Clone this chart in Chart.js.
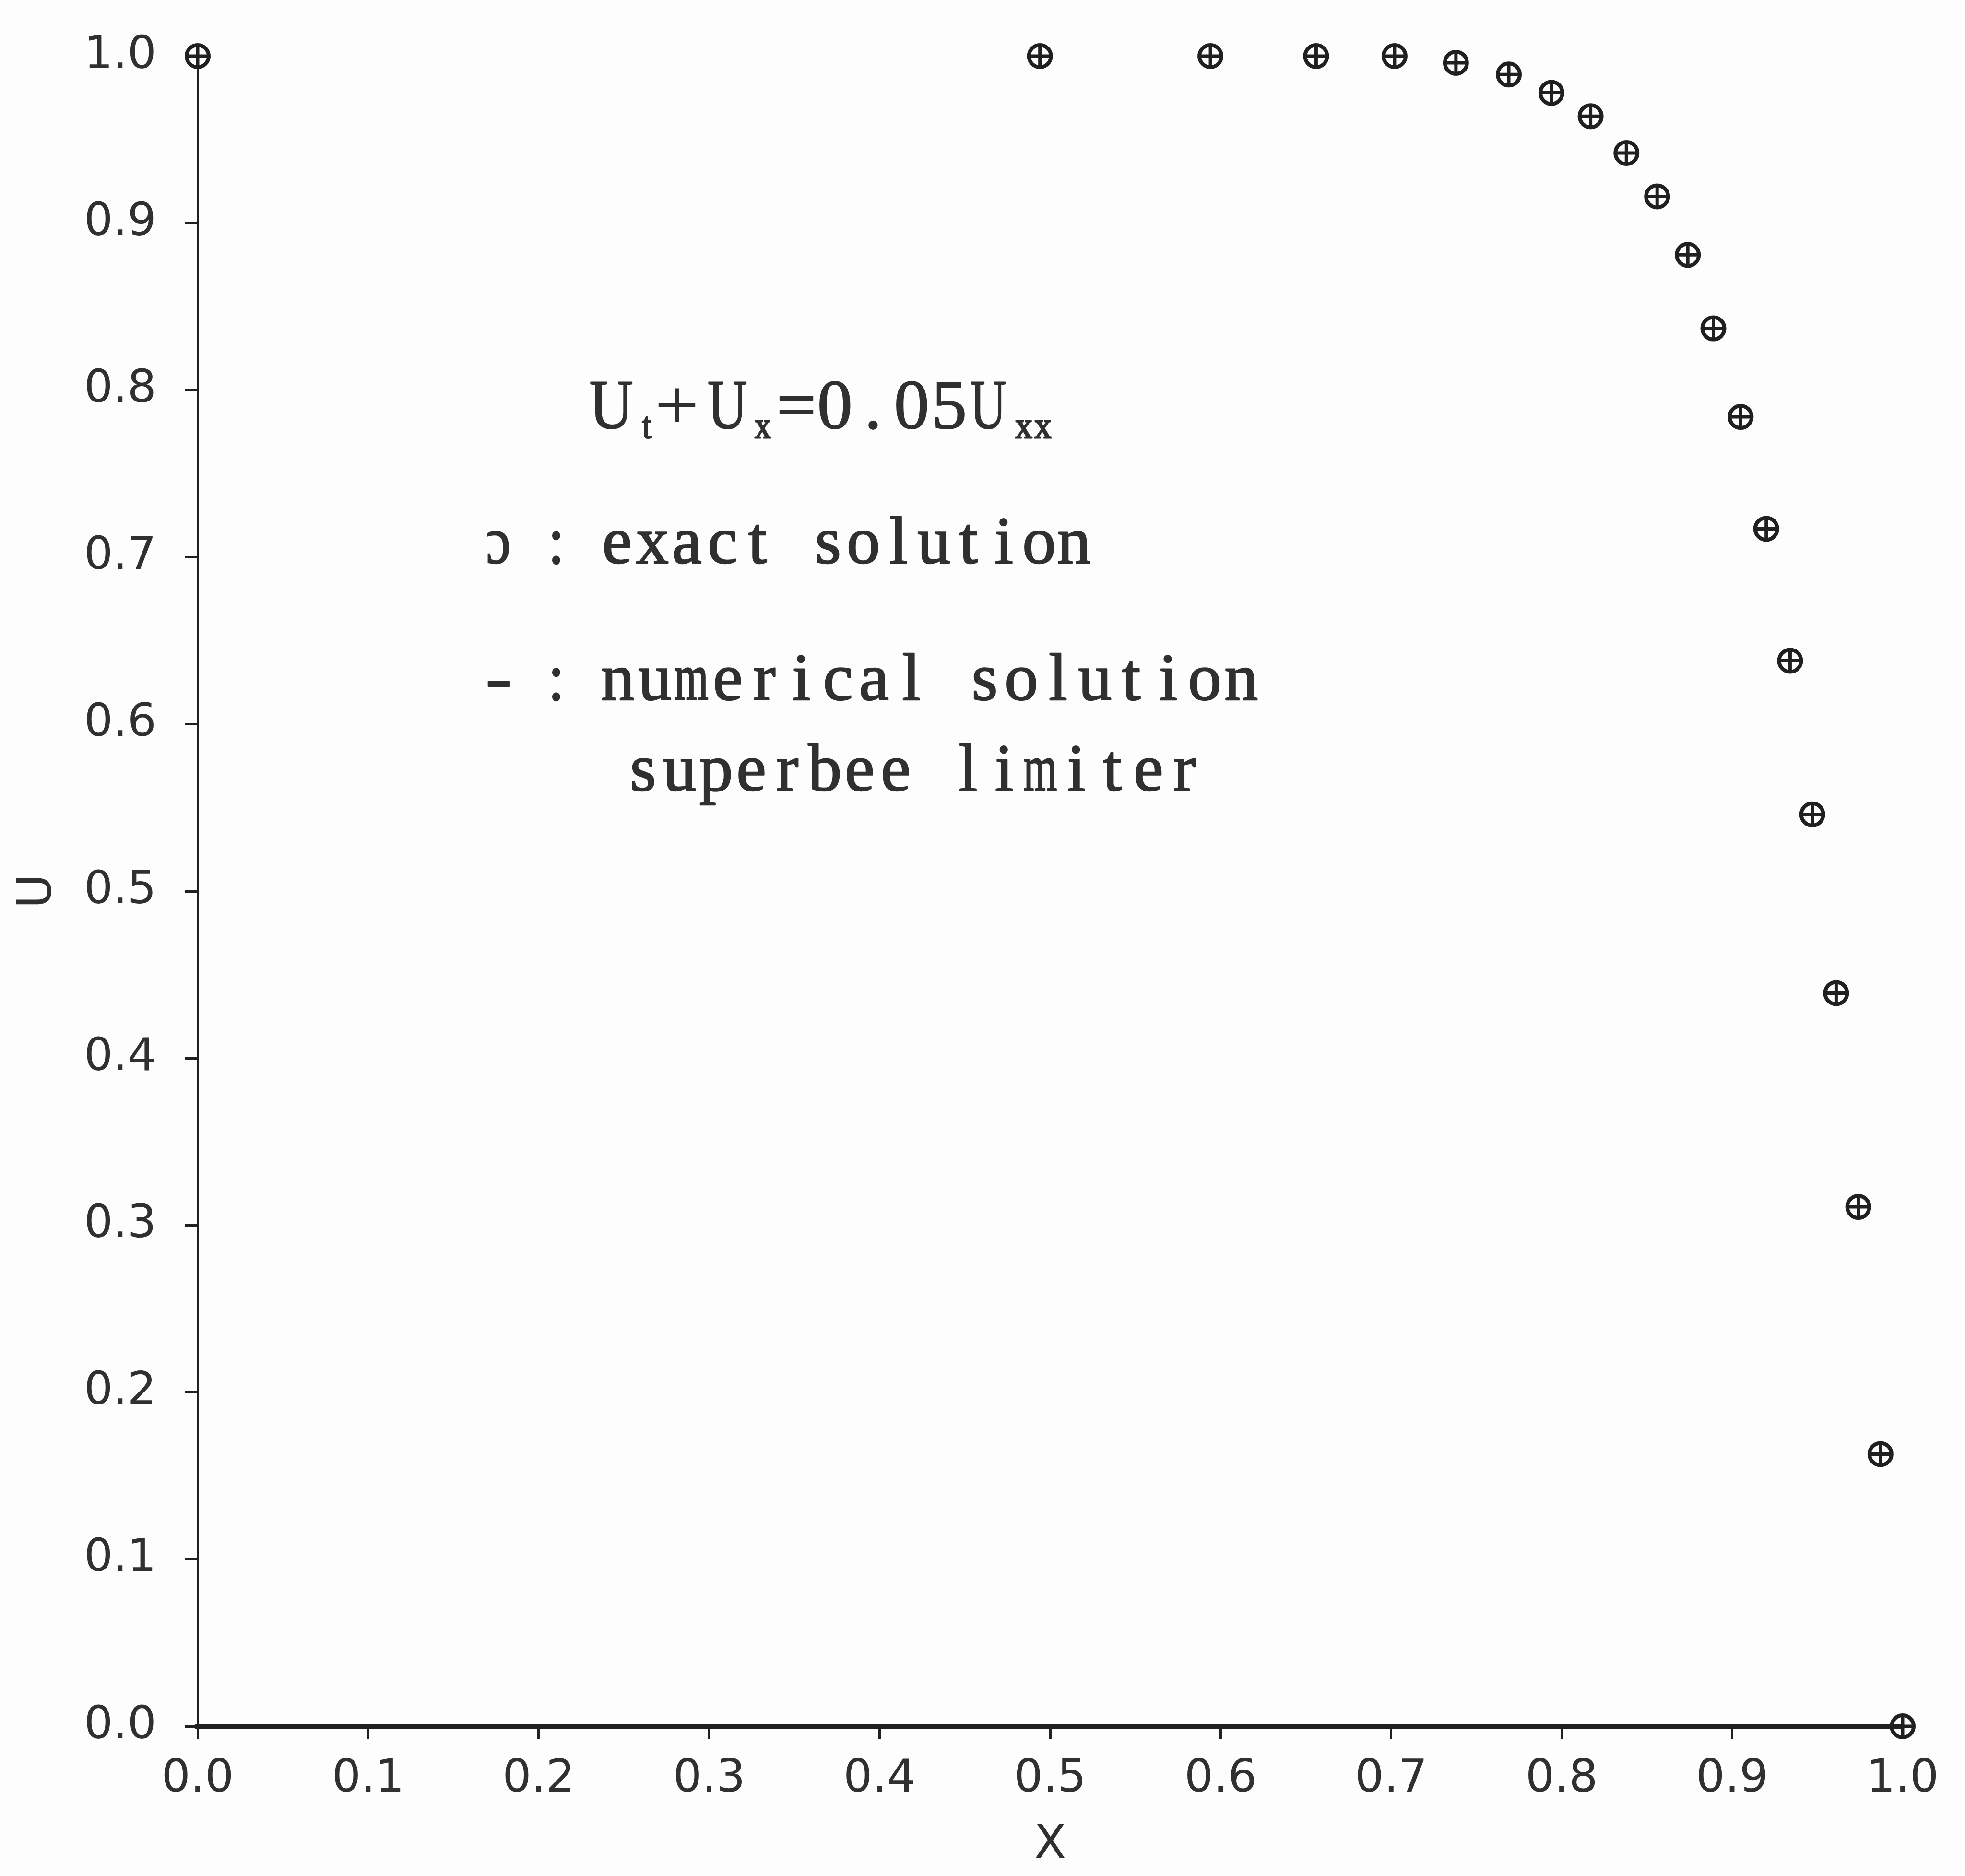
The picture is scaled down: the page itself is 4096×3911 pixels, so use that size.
<!DOCTYPE html>
<html>
<head>
<meta charset="utf-8">
<script src="https://cdn.jsdelivr.net/npm/chart.js@4.4.1/dist/chart.umd.min.js"></script>
<style>
  html, body { margin: 0; padding: 0; background: #fdfdfd; }
  canvas { display: block; }
</style>
</head>
<body>
<canvas id="chart" width="4096" height="3911"></canvas>
<script>
// Mesh points (clustered towards the outflow boundary x = 1)
const xGrid = [0.0, 0.494, 0.594, 0.656, 0.702, 0.738, 0.769, 0.794, 0.817, 0.838, 0.856,
               0.874, 0.889, 0.905, 0.920, 0.934, 0.947, 0.961, 0.974, 0.987, 1.0];
// Exact solution at the mesh points
const exactU = [1.0, 1.0, 1.0, 1.0, 1.0, 0.996, 0.989, 0.978, 0.964, 0.942, 0.916,
                0.881, 0.837, 0.784, 0.717, 0.638, 0.546, 0.439, 0.311, 0.163, 0.0];
// Numerical solution (superbee limiter) at the mesh points
const numericalU = [1.0, 1.0, 1.0, 1.0, 1.0, 0.996, 0.989, 0.978, 0.964, 0.942, 0.916,
                    0.881, 0.837, 0.784, 0.717, 0.638, 0.546, 0.439, 0.311, 0.163, 0.0];
// Axis ticks
const xTickValues = [0.0, 0.1, 0.2, 0.3, 0.4, 0.5, 0.6, 0.7, 0.8, 0.9, 1.0];
const yTickValues = [0.0, 0.1, 0.2, 0.3, 0.4, 0.5, 0.6, 0.7, 0.8, 0.9, 1.0];
const xTitle = 'X';
const yTitle = 'U';

const INK = '#202020';
const TEXT = '#303030';
const LABEL_FONT = { family: '"DejaVu Sans", sans-serif', size: 95, lineHeight: 1.2 };
const TITLE_FONT = { family: '"DejaVu Sans", sans-serif', size: 98, lineHeight: 1 };
const SERIF = '"Liberation Serif", "DejaVu Serif", serif';

const toPoints = (xs, ys) => xs.map((x, i) => ({ x: x, y: ys[i] }));

function paint(ctx, c, x, stroke) {
  ctx.fillText(c, x, 0);
  if (stroke) {
    ctx.lineWidth = stroke;
    ctx.lineJoin = 'round';
    ctx.strokeText(c, x, 0);
  }
}

// Typewriter-style line: every character centred in an equal cell between left and right
function cellText(ctx, text, left, right, baseline, size, stroke) {
  const adv = (right - left) / text.length;
  ctx.save();
  ctx.font = size + 'px ' + SERIF;
  ctx.textAlign = 'left';
  ctx.textBaseline = 'alphabetic';
  ctx.fillStyle = TEXT;
  ctx.strokeStyle = TEXT;
  for (let i = 0; i < text.length; i++) {
    const c = text[i];
    if (c === ' ') continue;
    const m = ctx.measureText(c);
    const inkW = m.actualBoundingBoxLeft + m.actualBoundingBoxRight;
    const sx = Math.min(1, (adv * 0.9) / inkW);
    ctx.save();
    ctx.translate(left + (i + 0.5) * adv, baseline);
    ctx.scale(sx, 1);
    paint(ctx, c, -(m.actualBoundingBoxRight - m.actualBoundingBoxLeft) / 2, stroke);
    ctx.restore();
  }
  ctx.restore();
}

// Single glyph run whose ink spans [left, right]
function fitText(ctx, text, left, right, baseline, size, stroke) {
  ctx.save();
  ctx.font = size + 'px ' + SERIF;
  ctx.textAlign = 'left';
  ctx.textBaseline = 'alphabetic';
  ctx.fillStyle = TEXT;
  ctx.strokeStyle = TEXT;
  const m = ctx.measureText(text);
  const sx = (right - left) / (m.actualBoundingBoxLeft + m.actualBoundingBoxRight);
  ctx.translate(left, baseline);
  ctx.scale(sx, 1);
  paint(ctx, text, m.actualBoundingBoxLeft, stroke);
  ctx.restore();
}

const background = {
  id: 'background',
  beforeDraw(chart) {
    const { ctx, width, height } = chart;
    ctx.save();
    ctx.fillStyle = '#fdfdfd';
    ctx.fillRect(0, 0, width, height);
    ctx.restore();
  }
};

// Equation and key written inside the plot
const annotations = {
  id: 'annotations',
  afterDraw(chart) {
    const ctx = chart.ctx;
    // U_t + U_x = 0.05 U_xx
    const big = 147, sub = 78, base = 893, subBase = 913;
    fitText(ctx, 'U', 1231, 1318, base, big, 2);
    fitText(ctx, 't', 1338, 1359, subBase, sub, 2);
    fitText(ctx, '+', 1373, 1449, base, big, 1);
    fitText(ctx, 'U', 1477, 1556, base, big, 2);
    fitText(ctx, 'x', 1573, 1607, subBase, sub, 3);
    cellText(ctx, '=0.05U', 1620, 2100, base, big, 2);
    cellText(ctx, 'xx', 2114, 2194, subBase, sub, 3);

    const key = 140;
    fitText(ctx, '\u0254', 1016, 1060, 1174, key, 2.5);
    fitText(ctx, ':', 1152, 1167, 1174, key, 2.5);
    cellText(ctx, 'exact solution', 1250, 2276, 1174, key, 2.5);

    fitText(ctx, '-', 1018, 1062, 1459, key, 2.5);
    fitText(ctx, ':', 1152, 1167, 1459, key, 2.5);
    cellText(ctx, 'numerical solution', 1250, 2626, 1459, key, 2.5);
    cellText(ctx, 'superbee limiter', 1303, 2507, 1648, key, 2.5);
  }
};

new Chart(document.getElementById('chart'), {
  type: 'scatter',
  data: {
    datasets: [
      {
        label: 'exact solution',
        data: toPoints(xGrid, exactU),
        pointStyle: 'circle',
        pointRadius: 23,
        borderWidth: 8,
        borderColor: INK,
        backgroundColor: 'rgba(0,0,0,0)',
        showLine: false,
        clip: false
      },
      {
        label: 'numerical solution',
        data: toPoints(xGrid, numericalU),
        pointStyle: 'cross',
        pointRadius: 22,
        borderWidth: 7,
        borderColor: INK,
        backgroundColor: INK,
        showLine: false,
        clip: false
      }
    ]
  },
  options: {
    responsive: false,
    devicePixelRatio: 1,
    animation: false,
    events: [],
    layout: { padding: { top: 104, right: 130, bottom: 0, left: 0 } },
    plugins: {
      legend: { display: false },
      tooltip: { enabled: false },
      title: { display: false }
    },
    scales: {
      x: {
        type: 'linear',
        position: 'bottom',
        min: 0,
        max: 1,
        afterBuildTicks: s => { s.ticks = xTickValues.map(v => ({ value: v })); },
        afterFit: s => { s.height = 312; },
        ticks: {
          autoSkip: false,
          maxRotation: 0,
          padding: 28,
          color: TEXT,
          font: LABEL_FONT,
          callback: v => Number(v).toFixed(1)
        },
        grid: {
          drawOnChartArea: false,
          drawTicks: true,
          tickLength: 26,
          lineWidth: 5,
          color: INK
        },
        border: { display: true, width: 11, color: INK },
        title: {
          display: true,
          text: xTitle,
          color: TEXT,
          font: TITLE_FONT,
          padding: { top: 0, bottom: 13 }
        }
      },
      y: {
        type: 'linear',
        position: 'left',
        min: 0,
        max: 1,
        afterBuildTicks: s => { s.ticks = yTickValues.map(v => ({ value: v })); },
        afterFit: s => { s.width = 412; },
        ticks: {
          padding: 60,
          color: TEXT,
          font: LABEL_FONT,
          callback: v => Number(v).toFixed(1)
        },
        grid: {
          drawOnChartArea: false,
          drawTicks: true,
          tickLength: 26,
          lineWidth: 5,
          color: INK
        },
        border: { display: true, width: 5, color: INK },
        title: {
          display: true,
          text: yTitle,
          color: TEXT,
          font: TITLE_FONT,
          padding: { top: 32, bottom: 0 }
        }
      }
    }
  },
  plugins: [background, annotations]
});
</script>
</body>
</html>
